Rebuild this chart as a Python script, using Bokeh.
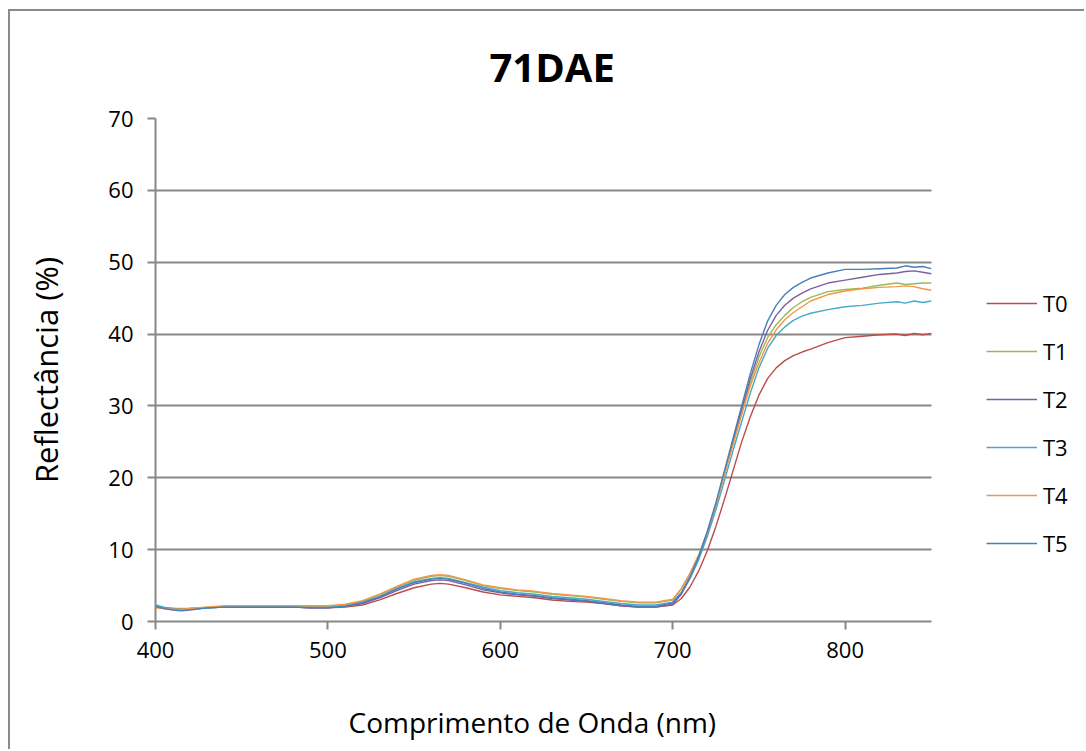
from bokeh.plotting import figure
from bokeh.models import Legend, LegendItem, FixedTicker, Title
from bokeh.embed import file_html
from bokeh.resources import INLINE

wavelength = [400, 405, 410, 415, 420, 430, 440, 450, 460, 470, 480, 490, 500, 510, 520, 530,
              540, 550, 560, 565, 570, 580, 590, 600, 610, 620, 630, 640, 650, 660, 670, 680,
              690, 700, 705, 710, 715, 720, 725, 730, 735, 740, 745, 750, 755, 760, 765, 770,
              775, 780, 790, 800, 810, 820, 830, 835, 840, 845, 850]

T0 = [2.0, 1.9, 1.8, 1.7, 1.8, 1.9, 2.0, 2.0, 2.0, 2.0, 2.0, 1.9, 1.9, 2.0, 2.3, 3.0,
      3.9, 4.7, 5.2, 5.3, 5.2, 4.7, 4.1, 3.7, 3.5, 3.3, 3.0, 2.8, 2.7, 2.5, 2.2, 2.0,
      2.0, 2.3, 3.2, 4.8, 7.0, 9.8, 13.2, 17.0, 21.0, 25.0, 28.5, 31.5, 33.8, 35.3, 36.3, 37.0,
      37.5, 37.9, 38.8, 39.5, 39.7, 39.9, 40.0, 39.8, 40.1, 39.9, 40.1]
T1 = [2.1, 1.9, 1.8, 1.8, 1.8, 2.0, 2.1, 2.2, 2.2, 2.2, 2.2, 2.1, 2.1, 2.3, 2.8, 3.7,
      4.8, 5.7, 6.3, 6.4, 6.3, 5.7, 5.0, 4.6, 4.3, 4.1, 3.8, 3.6, 3.4, 3.1, 2.8, 2.6,
      2.6, 3.0, 4.5, 6.6, 9.2, 12.4, 16.3, 20.6, 25.0, 29.3, 33.3, 36.8, 39.5, 41.3, 42.6, 43.7,
      44.5, 45.1, 45.9, 46.2, 46.4, 46.8, 47.1, 46.9, 47.0, 47.1, 47.1]
T2 = [2.0, 1.8, 1.7, 1.6, 1.7, 1.9, 2.0, 2.0, 2.0, 2.0, 2.0, 1.9, 1.9, 2.1, 2.5, 3.3,
      4.3, 5.2, 5.7, 5.8, 5.7, 5.1, 4.4, 4.0, 3.7, 3.5, 3.2, 3.0, 2.8, 2.5, 2.2, 2.0,
      2.0, 2.4, 3.8, 6.0, 8.7, 12.2, 16.2, 20.6, 25.0, 29.5, 33.8, 37.5, 40.5, 42.6, 44.0, 45.0,
      45.7, 46.3, 47.1, 47.5, 47.9, 48.3, 48.5, 48.7, 48.8, 48.6, 48.4]
T3 = [2.3, 2.0, 1.8, 1.7, 1.7, 1.9, 2.0, 2.1, 2.1, 2.1, 2.1, 2.0, 2.0, 2.2, 2.7, 3.5,
      4.6, 5.5, 6.0, 6.1, 6.0, 5.4, 4.8, 4.3, 4.0, 3.8, 3.5, 3.3, 3.1, 2.8, 2.5, 2.3,
      2.3, 2.7, 4.0, 6.0, 8.6, 11.8, 15.5, 19.6, 23.8, 27.8, 31.8, 35.3, 38.0, 39.8, 41.0, 41.9,
      42.5, 42.9, 43.4, 43.8, 44.0, 44.3, 44.5, 44.3, 44.6, 44.4, 44.6]
T4 = [1.9, 1.8, 1.7, 1.7, 1.8, 2.0, 2.2, 2.2, 2.2, 2.2, 2.2, 2.2, 2.2, 2.4, 2.9, 3.8,
      4.9, 5.9, 6.4, 6.5, 6.4, 5.8, 5.1, 4.7, 4.4, 4.2, 3.9, 3.7, 3.5, 3.2, 2.9, 2.7,
      2.7, 3.1, 4.6, 6.7, 9.2, 12.4, 16.2, 20.4, 24.6, 28.8, 32.8, 36.0, 38.7, 40.6, 42.0, 43.0,
      43.8, 44.6, 45.5, 46.0, 46.3, 46.5, 46.6, 46.7, 46.6, 46.3, 46.1]
T5 = [2.1, 1.8, 1.6, 1.5, 1.6, 1.9, 2.0, 2.0, 2.0, 2.0, 2.0, 1.9, 1.9, 2.1, 2.6, 3.4,
      4.5, 5.4, 5.9, 6.0, 5.9, 5.3, 4.6, 4.1, 3.8, 3.6, 3.3, 3.1, 2.9, 2.6, 2.3, 2.1,
      2.1, 2.6, 4.0, 6.2, 9.0, 12.5, 16.5, 21.0, 25.5, 30.0, 34.5, 38.5, 41.8, 44.0, 45.5, 46.5,
      47.2, 47.8, 48.5, 49.0, 49.0, 49.1, 49.2, 49.5, 49.3, 49.4, 49.1]

series_names = ["T0", "T1", "T2", "T3", "T4", "T5"]
series_values = [T0, T1, T2, T3, T4, T5]
series_colors = ["#BE4B48", "#98B954", "#7D60A0", "#46AAC5", "#F69546", "#4A7EBB"]
x_ticks = [400, 500, 600, 700, 800]
y_ticks = [0, 10, 20, 30, 40, 50, 60, 70]
x_min, x_max = 400, 850

FONT = "Open Sans"
GRAY = "#878787"

# frame extends to the right edge so the legend can sit beside the data area
p = figure(width=1076, height=740, x_range=(x_min, 940), y_range=(0, 70),
           output_backend="svg", toolbar_location=None,
           min_border_left=145, min_border_right=0, min_border_top=106,
           min_border_bottom=130)
p.margin = (9, 0, 0, 8)
p.styles = {"border-left": "2px solid #8a8a8a", "border-top": "2px solid #8a8a8a"}

p.title.text = "71DAE"
p.title.align = "left"
p.title.offset = 334
p.title.text_font = FONT
p.title.text_font_size = "40px"
p.title.text_font_style = "bold"
p.title.text_color = "black"
p.title.standoff = 50

p.outline_line_color = None
p.xgrid.visible = False
p.ygrid.ticker = FixedTicker(ticks=y_ticks)
p.ygrid.grid_line_color = GRAY
p.ygrid.grid_line_width = 2
try:
    p.ygrid.cross_bounds = (x_min, x_max)
except Exception:
    p.ygrid.visible = False
    p.segment(x0=[x_min] * len(y_ticks), x1=[x_max] * len(y_ticks), y0=y_ticks, y1=y_ticks,
              line_color=GRAY, line_width=2)

for ax in (p.xaxis[0], p.yaxis[0]):
    ax.axis_line_color = GRAY
    ax.axis_line_width = 2
    ax.major_tick_line_color = GRAY
    ax.major_tick_line_width = 2
    ax.major_tick_out = 8
    ax.major_tick_in = 0
    ax.minor_tick_line_color = None
    ax.major_label_text_font = FONT
    ax.major_label_text_font_size = "22px"
    ax.major_label_text_color = "black"
    ax.axis_label_text_font = FONT
    ax.axis_label_text_font_style = "normal"
    ax.axis_label_text_color = "black"

p.xaxis.bounds = (x_min, x_max)
p.xaxis.ticker = FixedTicker(ticks=x_ticks)
p.yaxis.ticker = FixedTicker(ticks=y_ticks)
p.yaxis.axis_label = "Reflectância (%)"
p.yaxis.axis_label_text_font_size = "31px"
p.xaxis.major_label_standoff = 12
p.yaxis.major_label_standoff = 14
p.yaxis.axis_label_standoff = 38
# blank spacer label keeps room between the tick labels and the x title
p.xaxis.axis_label = " "
p.xaxis.axis_label_text_font_size = "1px"
p.xaxis.axis_label_standoff = 33

# x-axis title, centred under the data area (not under the legend strip)
xtitle = Title(text="Comprimento de Onda (nm)", align="left", offset=193,
               vertical_align="top", standoff=10, text_font=FONT,
               text_font_size="28px", text_font_style="normal", text_color="black")
p.add_layout(xtitle, "below")

items = []
for name, vals, col in zip(series_names, series_values, series_colors):
    r = p.line(wavelength, vals, line_color=col, line_width=1.4)
    items.append(LegendItem(label=name, renderers=[r]))

legend = Legend(items=items, location=(831, 63), glyph_width=51, glyph_height=20,
                label_height=20, spacing=18, padding=0, margin=0, label_standoff=6,
                label_text_font=FONT, label_text_font_size="22px", label_text_color="black",
                border_line_alpha=0, background_fill_alpha=0)
p.add_layout(legend)

open("out.html", "w").write(file_html(p, INLINE))
